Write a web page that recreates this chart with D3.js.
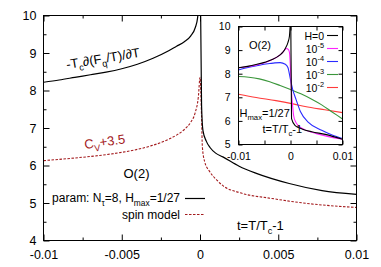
<!DOCTYPE html>
<html>
<head>
<meta charset="utf-8">
<script src="https://cdn.jsdelivr.net/npm/d3@7"></script>
<style>
body{margin:0;background:#fff}
svg{display:block}
text{font-family:"Liberation Sans",Arial,Helvetica,sans-serif;fill:#000}
</style>
</head>
<body>
<svg id="chart" width="381" height="267"></svg>
<script>
// main plot: -Tc d(Fq/T)/dT, two branches around t=0
var blackLeftT = [-0.01,-0.009,-0.008,-0.007,-0.006,-0.005,-0.004,-0.003,-0.002,-0.0015,-0.001,-0.0006,-0.0003,-0.00015,-0.00005];
var blackLeftV = [8.22,8.28,8.35,8.42,8.49,8.58,8.70,8.86,9.06,9.18,9.30,9.45,9.68,9.95,10.6];
var blackRightT = [0.00003,0.0001,0.00019,0.0004,0.00064,0.001,0.00146,0.0025,0.0036,0.0057,0.0078,0.01];
var blackRightV = [10.5,7.6,6.93,6.65,6.48,6.33,6.23,5.98,5.79,5.52,5.33,5.23];
// spin model Cv+3.5
var spinT = [-0.01,-0.008,-0.006,-0.005,-0.004,-0.003,-0.002,-0.0015,-0.001,-0.0006,-0.0003,-0.0001,0,0.0001,0.00015,0.0003,0.0006,0.0011,0.0015,0.0025,0.0046,0.0068,0.01];
var spinV = [6.13,6.2,6.29,6.35,6.43,6.54,6.7,6.81,6.96,7.15,7.42,7.85,8.35,7.3,6.5,6.1,5.85,5.6,5.45,5.28,5.12,4.99,4.88];

// inset curves, one per H
var insetNames = ["H=0","10^-5","10^-4","10^-3","10^-2"];
var insetColors = ["#000000","#ff22ff","#2a2aff","#3a963a","#ff3b3b"];
var h0LeftT = [-0.01,-0.008,-0.0066,-0.005,-0.0034,-0.002,-0.0015,-0.001,-0.0005,-0.0002,-0.00005];
var h0LeftV = [8.25,8.32,8.39,8.48,8.61,8.8,8.9,9.07,9.32,9.6,10.1];
var h0RightT = [0.00005,0.0002,0.0009,0.0022,0.0041,0.0067,0.01];
var h0RightV = [10.2,6.1,5.8,5.66,5.54,5.43,5.22];
var h5T = [-0.01,-0.006,-0.004,-0.002,-0.0012,-0.0008,-0.0004,-0.0002,0,0.0002,0.0004,0.0006,0.001,0.0015,0.0028,0.005,0.01];
var h5V = [8.25,8.4,8.55,8.8,8.98,9.07,9.02,8.9,8.2,7.2,6.65,6.23,5.95,5.8,5.62,5.46,5.22];
var h4T = [-0.01,-0.008,-0.006,-0.004,-0.003,-0.002,-0.001,-0.0005,0,0.0004,0.001,0.0019,0.0035,0.006,0.008,0.01];
var h4V = [8.16,8.27,8.36,8.43,8.46,8.47,8.4,8.26,7.75,7.35,6.95,6.4,5.93,5.6,5.4,5.25];
var h3T = [-0.01,-0.008,-0.006,-0.004,-0.002,0,0.002,0.004,0.006,0.008,0.01];
var h3V = [7.88,7.85,7.78,7.66,7.5,7.33,7.15,6.93,6.68,6.38,6.08];
var h2T = [-0.01,-0.0066,-0.0028,0.0007,0.0028,0.0066,0.01];
var h2V = [7.13,6.99,6.86,6.71,6.61,6.47,6.35];

// ticks
var xMajor = [-0.01,-0.005,0,0.005,0.01];
var xMinor = [-0.0075,-0.0025,0.0025,0.0075];
var yMajor = [4,5,6,7,8,9,10];
var yMinor = [4.5,5.5,6.5,7.5,8.5,9.5];
var ixLabeled = [-0.01,0,0.01];
var ixOther = [-0.005,0.005];
var iyMajor = [5,6,7,8,9,10];

var darkRed = "#a31a1d";
var svg = d3.select("#chart");

function zip(ts, vs)
{
	return ts.map(function(t, i){ return [t, vs[i]]; });
}
function fmt(d)
{
	return d === 0 ? "0" : String(d);
}
// text with sub/superscripts: parts = [[str, kind], ...]
function richText(g, x, y, parts, size, opts)
{
	opts = opts || {};
	var t = g.append("text").attr("x", x).attr("y", y).style("font-size", size + "px");
	if(opts.anchor) t.attr("text-anchor", opts.anchor);
	if(opts.fill) t.style("fill", opts.fill);
	if(opts.rotate) t.attr("transform", "rotate(" + opts.rotate + "," + x + "," + y + ")");
	var shift = 0;
	parts.forEach(function(p)
	{
		var s = p[1] === "sub" ? size * 0.3 : p[1] === "sup" ? -size * 0.4 : 0;
		var ts = t.append("tspan").text(p[0]).attr("dy", s - shift);
		if(p[1]) ts.style("font-size", (size * 0.7) + "px");
		shift = s;
	});
	return t;
}

// ---------- main plot ----------
var x = d3.scaleLinear().domain([-0.01, 0.01]).range([43.5, 356.5]);
var y = d3.scaleLinear().domain([4, 10]).range([240.5, 15.5]);

svg.append("clipPath").attr("id", "clipMain").append("rect")
	.attr("x", 43.5).attr("y", 15.5).attr("width", 313).attr("height", 225);

var line = d3.line().x(function(d){ return x(d[0]); }).y(function(d){ return y(d[1]); }).curve(d3.curveMonotoneX);

var gm = svg.append("g").attr("clip-path", "url(#clipMain)");
gm.append("path").attr("d", line(zip(spinT, spinV))).attr("fill", "none")
	.attr("stroke", darkRed).attr("stroke-width", 1.1).attr("stroke-dasharray", "2.5,1.5");
gm.append("path").attr("d", line(zip(blackLeftT, blackLeftV))).attr("fill", "none")
	.attr("stroke", "#000").attr("stroke-width", 1.2);
gm.append("path").attr("d", line(zip(blackRightT, blackRightV))).attr("fill", "none")
	.attr("stroke", "#000").attr("stroke-width", 1.2);

function cleanAxis(g)
{
	g.select(".domain").remove();
	g.selectAll(".tick line").attr("stroke", "#000");
	return g;
}

svg.append("g").attr("transform", "translate(0,240.5)")
	.call(d3.axisBottom(x).tickValues(xMajor).tickSize(-6).tickPadding(9.5).tickFormat(fmt))
	.call(cleanAxis).selectAll("text").style("font-size", "12.5px").style("font-family", null);
svg.append("g").attr("transform", "translate(0,240.5)")
	.call(d3.axisBottom(x).tickValues(xMinor).tickSize(-3).tickFormat("")).call(cleanAxis);
svg.append("g").attr("transform", "translate(0,15.5)")
	.call(d3.axisTop(x).tickValues(xMajor).tickSize(-6).tickFormat("")).call(cleanAxis);
svg.append("g").attr("transform", "translate(0,15.5)")
	.call(d3.axisTop(x).tickValues(xMinor).tickSize(-3).tickFormat("")).call(cleanAxis);
svg.append("g").attr("transform", "translate(43.5,0)")
	.call(d3.axisLeft(y).tickValues(yMajor).tickSize(-6).tickPadding(7).tickFormat(fmt))
	.call(cleanAxis).selectAll("text").style("font-size", "12.5px").style("font-family", null);
svg.append("g").attr("transform", "translate(43.5,0)")
	.call(d3.axisLeft(y).tickValues(yMinor).tickSize(-3).tickFormat("")).call(cleanAxis);
svg.append("g").attr("transform", "translate(356.5,0)")
	.call(d3.axisRight(y).tickValues(yMajor).tickSize(-6).tickFormat("")).call(cleanAxis);
svg.append("g").attr("transform", "translate(356.5,0)")
	.call(d3.axisRight(y).tickValues(yMinor).tickSize(-3).tickFormat("")).call(cleanAxis);
svg.selectAll(".tick text").style("fill", "#000");

svg.append("rect").attr("x", 43.5).attr("y", 15.5).attr("width", 313).attr("height", 225)
	.attr("fill", "none").attr("stroke", "#000").attr("stroke-width", 1);

// main labels
richText(svg, 67, 69, [["-T"],["c","sub"],["\u2202(F"],["q","sub"],["/T)/\u2202T"]], 13, {rotate: -9.5});
richText(svg, 85, 149, [["C"],["V","sub"],["+3.5"]], 13, {rotate: -8, fill: darkRed});
richText(svg, 136.5, 178, [["O(2)"]], 13, {anchor: "middle"});
richText(svg, 180, 202, [["param: N"],["\u03c4","sub"],["=8, H"],["max","sub"],["=1/27"]], 12, {anchor: "end"});
richText(svg, 180, 219, [["spin model"]], 12, {anchor: "end"});
richText(svg, 237, 230, [["t=T/T"],["c","sub"],["-1"]], 13);

svg.append("line").attr("x1", 185).attr("x2", 205).attr("y1", 198.5).attr("y2", 198.5)
	.attr("stroke", "#000").attr("stroke-width", 1.2);
svg.append("line").attr("x1", 185).attr("x2", 205).attr("y1", 214.5).attr("y2", 214.5)
	.attr("stroke", darkRed).attr("stroke-width", 1.1).attr("stroke-dasharray", "2.5,1.5");

// ---------- inset ----------
var xi = d3.scaleLinear().domain([-0.01, 0.01]).range([238.5, 342.5]);
var yi = d3.scaleLinear().domain([5, 10]).range([144.5, 26.5]);

svg.append("rect").attr("x", 238.5).attr("y", 26.5).attr("width", 104).attr("height", 118).attr("fill", "#fff");
svg.append("clipPath").attr("id", "clipInset").append("rect")
	.attr("x", 238.5).attr("y", 26.5).attr("width", 104).attr("height", 118);

var iline = d3.line().x(function(d){ return xi(d[0]); }).y(function(d){ return yi(d[1]); }).curve(d3.curveMonotoneX);
var gi = svg.append("g").attr("clip-path", "url(#clipInset)");
var insetSeries = [
	[zip(h2T, h2V)],
	[zip(h3T, h3V)],
	[zip(h4T, h4V)],
	[zip(h5T, h5V)],
	[zip(h0LeftT, h0LeftV), zip(h0RightT, h0RightV)]
];
var insetColorOrder = [insetColors[4], insetColors[3], insetColors[2], insetColors[1], insetColors[0]];
insetSeries.forEach(function(segs, k)
{
	segs.forEach(function(s)
	{
		gi.append("path").attr("d", iline(s)).attr("fill", "none")
			.attr("stroke", insetColorOrder[k]).attr("stroke-width", 1.1);
	});
});

svg.append("g").attr("transform", "translate(0,144.5)")
	.call(d3.axisBottom(xi).tickValues(ixLabeled).tickSize(-4).tickPadding(8).tickFormat(fmt))
	.call(cleanAxis).selectAll("text").style("font-size", "10.5px").style("font-family", null);
svg.append("g").attr("transform", "translate(0,144.5)")
	.call(d3.axisBottom(xi).tickValues(ixOther).tickSize(-4).tickFormat("")).call(cleanAxis);
svg.append("g").attr("transform", "translate(0,26.5)")
	.call(d3.axisTop(xi).tickValues(ixLabeled.concat(ixOther)).tickSize(-4).tickFormat("")).call(cleanAxis);
svg.append("g").attr("transform", "translate(238.5,0)")
	.call(d3.axisLeft(yi).tickValues(iyMajor).tickSize(-4).tickPadding(8).tickFormat(fmt))
	.call(cleanAxis).selectAll("text").style("font-size", "10.5px").style("font-family", null);
svg.append("g").attr("transform", "translate(342.5,0)")
	.call(d3.axisRight(yi).tickValues(iyMajor).tickSize(-4).tickFormat("")).call(cleanAxis);
svg.selectAll(".tick text").style("fill", "#000");

svg.append("rect").attr("x", 238.5).attr("y", 26.5).attr("width", 104).attr("height", 118)
	.attr("fill", "none").attr("stroke", "#000").attr("stroke-width", 1);

richText(svg, 249, 48.5, [["O(2)"]], 11);
richText(svg, 239.5, 117, [["H"],["max","sub"],["=1/27"]], 11);
richText(svg, 262.5, 132.5, [["t=T/T"],["c","sub"],["-1"]], 11);

// inset legend
var legY = [35.5, 48.5, 61.5, 74.5, 87.5];
insetNames.forEach(function(n, i)
{
	var parts = n.indexOf("^") >= 0 ? [[n.split("^")[0]], [n.split("^")[1], "sup"]] : [[n]];
	richText(svg, 324, legY[i] + 4, parts, 10.5, {anchor: "end"});
	svg.append("line").attr("x1", 327).attr("x2", 338).attr("y1", legY[i]).attr("y2", legY[i])
		.attr("stroke", insetColors[i]).attr("stroke-width", 1.1);
});
</script>
</body>
</html>
